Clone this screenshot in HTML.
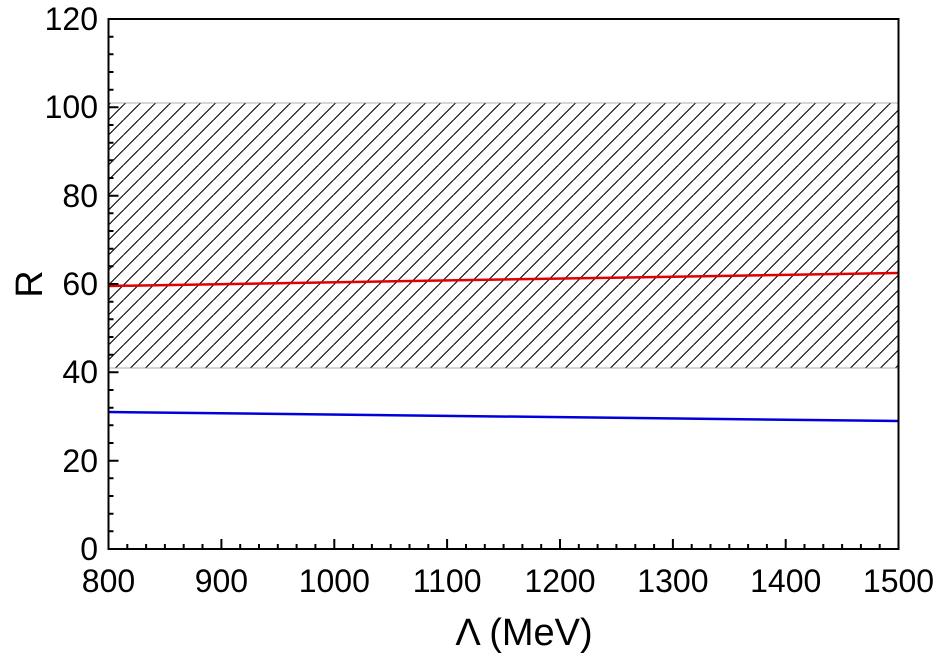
<!DOCTYPE html>
<html><head><meta charset="utf-8"><style>
html,body{margin:0;padding:0;background:#fff;}
text{font-family:"Liberation Sans",Arial,sans-serif;fill:#000;}
</style></head><body>
<svg width="945" height="660" viewBox="0 0 945 660" xmlns="http://www.w3.org/2000/svg">
<defs>
<pattern id="h" patternUnits="userSpaceOnUse" width="15" height="15" patternTransform="translate(108.5,0)">
<line x1="0" y1="15" x2="15" y2="0" stroke="#000" stroke-width="1.1"/>
<line x1="-15" y1="15" x2="0" y2="0" stroke="#000" stroke-width="1.1"/>
<line x1="15" y1="15" x2="30" y2="0" stroke="#000" stroke-width="1.1"/>
</pattern>
<clipPath id="c"><rect x="108.5" y="19" width="790" height="530"/></clipPath>
</defs>
<rect x="108.5" y="103" width="790" height="265" fill="url(#h)" stroke="#999" stroke-width="0.8"/>
<g clip-path="url(#c)">
<path d="M108.5,286 Q500,279 898.5,273" fill="none" stroke="#e00000" stroke-width="2.5"/>
<path d="M108.5,412 Q500,417 898.5,421" fill="none" stroke="#0000dd" stroke-width="2.5"/>
</g>
<rect x="108.5" y="19" width="790" height="530" fill="none" stroke="#000" stroke-width="2"/>
<g stroke="#000" stroke-width="2">
<path d="M108.5,549h10M108.5,460.7h10M108.5,372.3h10M108.5,284h10M108.5,195.7h10M108.5,107.3h10"/>
<path d="M108.5,531.3h5M108.5,513.7h5M108.5,496h5M108.5,478.3h5M108.5,443h5M108.5,425.3h5M108.5,407.7h5M108.5,390h5M108.5,354.7h5M108.5,337h5M108.5,319.3h5M108.5,301.7h5M108.5,266.3h5M108.5,248.7h5M108.5,231h5M108.5,213.3h5M108.5,178h5M108.5,160.3h5M108.5,142.7h5M108.5,125h5M108.5,89.7h5M108.5,72h5M108.5,54.3h5M108.5,36.7h5"/>
<path d="M221.4,549v-10M334.3,549v-10M447.1,549v-10M560,549v-10M672.9,549v-10M785.7,549v-10"/>
<path d="M127.3,549v-5M146.1,549v-5M164.9,549v-5M183.7,549v-5M202.5,549v-5M240.2,549v-5M259,549v-5M277.8,549v-5M296.6,549v-5M315.4,549v-5M353.1,549v-5M371.9,549v-5M390.7,549v-5M409.5,549v-5M428.3,549v-5M466,549v-5M484.8,549v-5M503.6,549v-5M522.4,549v-5M541.2,549v-5M578.8,549v-5M597.6,549v-5M616.4,549v-5M635.3,549v-5M654.1,549v-5M691.7,549v-5M710.5,549v-5M729.3,549v-5M748.1,549v-5M766.9,549v-5M804.5,549v-5M823.3,549v-5M842.1,549v-5M860.9,549v-5M879.7,549v-5"/>
</g>
<g font-size="32" text-anchor="end">
<text x="98" y="560">0</text><text x="98" y="472">20</text><text x="98" y="383">40</text>
<text x="98" y="295">60</text><text x="98" y="207">80</text><text x="98" y="118">100</text><text x="98" y="30">120</text>
</g>
<g font-size="32" text-anchor="middle">
<text x="108.5" y="592">800</text><text x="221.4" y="592">900</text><text x="334.3" y="592">1000</text>
<text x="447.1" y="592">1100</text><text x="560" y="592">1200</text><text x="672.9" y="592">1300</text>
<text x="785.7" y="592">1400</text><text x="898.5" y="592">1500</text>
</g>
<text x="524" y="645" font-size="38" text-anchor="middle">Λ (MeV)</text>
<text transform="translate(42,284) rotate(-90)" font-size="38" text-anchor="middle">R</text>
</svg>
</body></html>
